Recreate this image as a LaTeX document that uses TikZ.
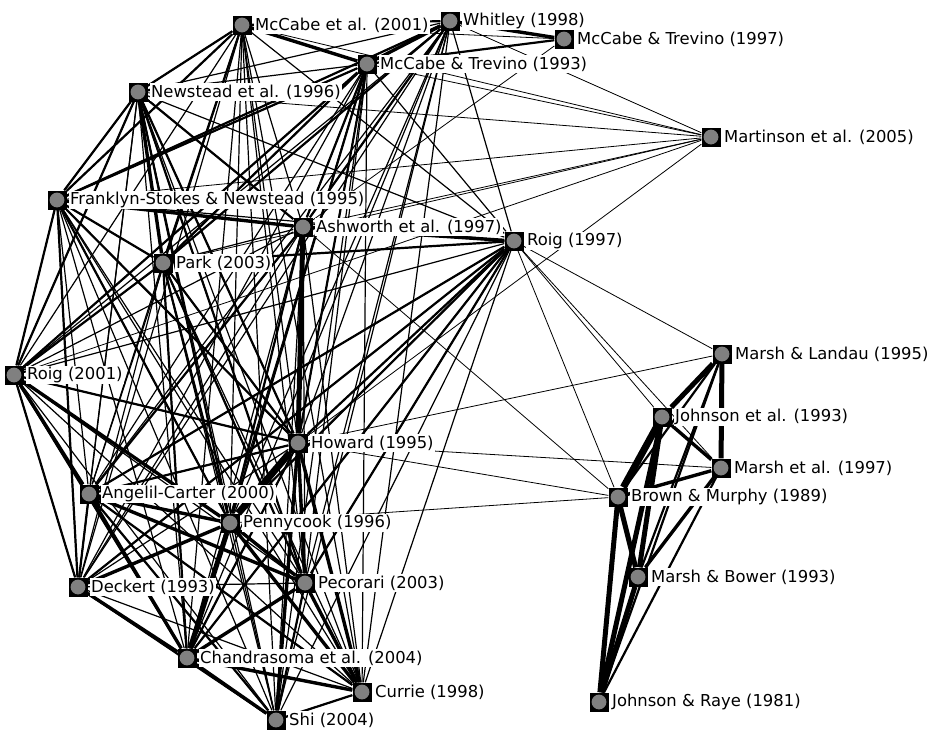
\documentclass[tikz,border=0pt]{standalone}
\usepackage{fontspec}
\setmainfont{DejaVu Sans}
\usetikzlibrary{backgrounds}

\tikzset{
  paper/.style={rectangle, fill=black, minimum size=19pt, inner sep=0pt,
    path picture={\fill[black!50] (path picture bounding box.center) circle (7.4pt);}},
  lab/.style={fill=white, inner xsep=1pt, inner ysep=1.5pt, anchor=west,
    font=\fontsize{16.4}{18}\selectfont},
  hair link/.style={line width=0.8pt},
  fine link/.style={line width=1.2pt},
  mid link/.style={line width=2.2pt},
  bold link/.style={line width=3.4pt},
  heavy link/.style={line width=5pt},
  huge link/.style={line width=7pt}
}

\begin{document}
\begin{tikzpicture}[x=1pt,y=-1pt]

% papers
\foreach \n/\x/\y/\t in {
  mc01/242/25/{McCabe et al. (2001)},
  whit98/450/21/{Whitley (1998)},
  mt97/564/39/{McCabe \& Trevino (1997)},
  mt93/367/64/{McCabe \& Trevino (1993)},
  new96/138/92/{Newstead et al. (1996)},
  mart05/711/137/{Martinson et al. (2005)},
  fsn95/57/200/{Franklyn-Stokes \& Newstead (1995)},
  ash97/303/227/{Ashworth et al. (1997)},
  roig97/514/241/{Roig (1997)},
  park03/163/263/{Park (2003)},
  roig01/14/375/{Roig (2001)},
  mla95/722/354/{Marsh \& Landau (1995)},
  joh93/662/417/{Johnson et al. (1993)},
  how95/298/443/{Howard (1995)},
  mar97/721/468/{Marsh et al. (1997)},
  ang00/89/494/{Angelil-Carter (2000)},
  bro89/618/497/{Brown \& Murphy (1989)},
  pen96/230/523/{Pennycook (1996)},
  dec93/78/587/{Deckert (1993)},
  pec03/305/583/{Pecorari (2003)},
  mbo93/638/577/{Marsh \& Bower (1993)},
  cha04/187/658/{Chandrasoma et al. (2004)},
  cur98/362/692/{Currie (1998)},
  jra81/599/702/{Johnson \& Raye (1981)},
  shi04/276/720/{Shi (2004)}}
{
  \node[paper] (\n) at (\x,\y) {};
  \node[lab] (\n-l) at ([xshift=12pt]\n.center) {\t};
}

\begin{scope}[on background layer]
\fill[white] (0,0) rectangle (935,732);

% the dense cluster, every pair
\def\core{mc01,whit98,mt93,new96,fsn95,ash97,roig97,park03,roig01,how95,ang00,pen96,dec93,pec03,cha04,cur98,shi04}
\foreach \a [count=\i] in \core
  \foreach \b [count=\j] in \core
    {\ifnum\j>\i \draw[fine link] (\a) -- (\b); \fi}

% weak ties
\foreach \a/\b in {mart05/whit98,mart05/mt93,mart05/mc01,mart05/new96,mart05/fsn95,
  mart05/ash97,mart05/park03,mart05/roig01,mart05/how95,mt97/mc01,mt97/ash97,
  roig97/joh93,roig97/mar97,roig97/bro89,roig97/mla95,how95/bro89,how95/mar97,
  how95/mla95,pen96/bro89,ash97/bro89}
  \draw[hair link] (\a) -- (\b);

\foreach \a/\b in {fsn95/park03,park03/roig97,roig01/how95,roig01/dec93,roig01/cha04,
  dec93/shi04,ang00/cur98,ang00/shi04,ang00/dec93,pec03/shi04,shi04/cur98,
  how95/cha04,how95/ang00,new96/ash97,new96/fsn95,new96/how95,mc01/new96,
  mc01/fsn95,whit98/ash97,whit98/park03,whit98/fsn95,mt93/ash97,mt93/park03,
  mt93/fsn95,mt93/roig01,mc01/whit98,roig97/how95,roig97/pen96,roig97/ang00,
  roig97/pec03,roig97/cha04,roig97/dec93,mt93/how95,mt93/pen96,mc01/park03,
  park03/pen96,park03/pec03,park03/how95,park03/cha04,fsn95/how95,fsn95/roig01,
  fsn95/pen96,fsn95/dec93,new96/pen96,new96/pec03,ash97/pen96,ash97/ang00,
  roig01/park03,roig01/new96,mt97/mt93,mla95/bro89,mla95/mbo93,mla95/jra81,
  mar97/jra81}
  \draw[mid link] (\a) -- (\b);

\foreach \a/\b in {fsn95/ash97,mc01/mt93,whit98/mt97,whit98/mt93,ash97/roig97,
  how95/pec03,roig01/ang00,roig01/pen96,ang00/pen96,ang00/pec03,ang00/cha04,
  dec93/cha04,dec93/pen96,cha04/shi04,cha04/cur98,pen96/pec03,pen96/cur98,
  pec03/cur98,how95/cur98,how95/shi04,cha04/pec03,new96/park03,
  joh93/mar97,mar97/mbo93,mar97/bro89}
  \draw[bold link] (\a) -- (\b);

\foreach \a/\b in {mla95/joh93,bro89/mbo93,bro89/jra81,mbo93/jra81,mla95/mar97,
  ash97/how95,pen96/cha04,joh93/mbo93,joh93/jra81}
  \draw[heavy link] (\a) -- (\b);

\foreach \a/\b in {how95/pen96,joh93/bro89}
  \draw[huge link] (\a) -- (\b);
\end{scope}

\useasboundingbox (0,0) rectangle (935,732);
\end{tikzpicture}
\end{document}
